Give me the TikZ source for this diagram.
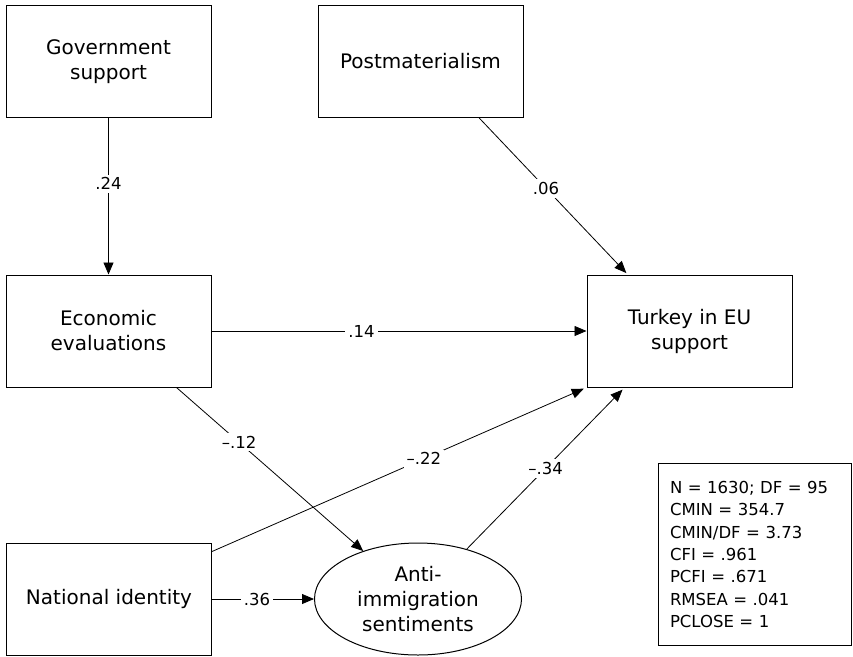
\documentclass[tikz,border=0pt]{standalone}
\usepackage{fontspec}
\setmainfont{DejaVu Sans}
\usetikzlibrary{arrows.meta,calc,shapes.geometric}
\begin{document}
\begin{tikzpicture}[x=1pt,y=-1pt,
  box/.style={draw,line width=1pt,minimum width=205pt,minimum height=112pt,inner sep=0pt,align=center,font=\fontsize{20}{25}\selectfont},
  oval/.style={draw,ellipse,line width=1pt,minimum width=207pt,minimum height=112pt,inner sep=0pt,align=center,font=\fontsize{20}{25}\selectfont},
  conn/.style={line width=0.8pt,-{Triangle[length=12pt,width=10pt]}},
  lbl/.style={fill=white,inner sep=3pt,font=\fontsize{16.5}{20}\selectfont},
  statsbox/.style={draw,line width=1pt,minimum width=193pt,minimum height=182pt,inner xsep=11pt,text width=170pt,align=left,font=\fontsize{16.5}{22.3}\selectfont}
]
\useasboundingbox (0,0) rectangle (853,656);

\node[box] (gov) at (108.5,61.5) {Government\\support};
\node[box] (post) at (420.5,61.5) {Postmaterialism};
\node[box] (econ) at (108.5,331) {Economic\\evaluations};
\node[box] (turkey) at (689.5,331) {Turkey in EU\\support};
\node[box] (nat) at (109,599) {National identity};
\node[oval] (anti) at (418,599) {Anti-\\immigration\\sentiments};
\node[statsbox,anchor=north west] (stats) at (658,463) {N = 1630; DF = 95\\CMIN = 354.7\\CMIN/DF = 3.73\\CFI = .961\\PCFI = .671\\RMSEA = .041\\PCLOSE = 1};

\coordinate (p1) at ($(post.south west)!0.785!(post.south east)$);
\coordinate (t1) at ($(turkey.north west)!0.2!(turkey.north east)$);
\coordinate (e1) at ($(econ.south west)!0.83!(econ.south east)$);
\coordinate (n1) at ($(nat.north east)+(0,9)$);
\coordinate (t2) at ($(turkey.south west)!0.185!(turkey.south east)$);

\draw[conn] (gov) -- node[lbl,pos=0.42]{.24} (econ);
\draw[conn,shorten >=2pt] (p1) -- node[lbl,pos=0.45]{.06} (t1);
\draw[conn] (econ) -- node[lbl,pos=0.40]{.14} (turkey);
\draw[conn] (e1) -- node[lbl,pos=0.335]{–.12} (anti);
\draw[conn,shorten >=3pt] (n1) -- node[lbl,pos=0.566]{–.22} (turkey.south west);
\draw[conn,shorten >=3pt] (anti) -- node[lbl,pos=0.5]{–.34} (t2);
\draw[conn] (nat) -- node[lbl,pos=0.44]{.36} (anti);
\end{tikzpicture}
\end{document}
